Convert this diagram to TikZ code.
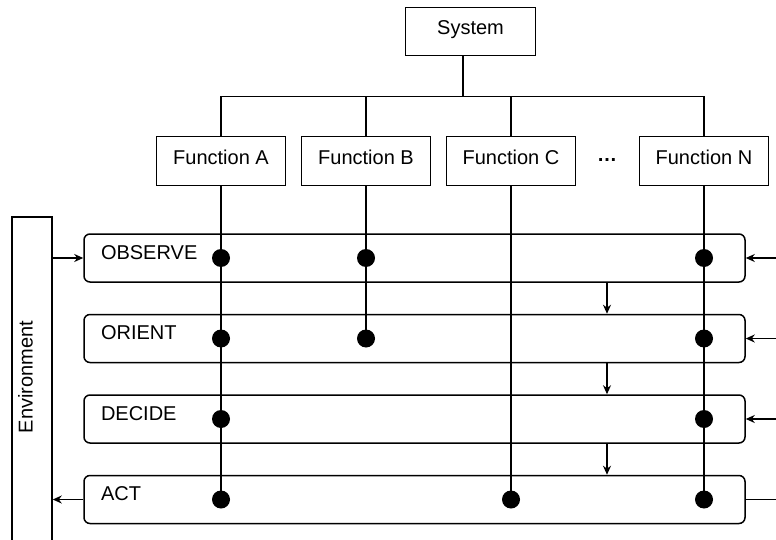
\documentclass[tikz,border=0pt]{standalone}
\usepackage{fontspec}
\setmainfont{Liberation Sans}
\usepackage{tikz}
\usetikzlibrary{shapes,arrows,arrows.meta}
\usetikzlibrary{positioning}
\tikzstyle{link} = [line width=1.5pt]
\tikzstyle{arrow} = [line width=1.5pt,-{Stealth[length=9pt,width=8pt]}]
\tikzstyle{block} = [
    rectangle, minimum width=129pt, minimum height=49pt, inner sep=0pt,
    text height=14.3pt, text depth=8pt,
    text centered, draw=black, line width=1.5pt]
\tikzstyle{phase} = [
    rectangle, rounded corners=6pt, minimum width=661pt, minimum height=48pt,
    text width=627pt, inner xsep=17pt, align=left, text depth=11pt,
    draw=black, line width=1.5pt]
\tikzstyle{dot} = [circle, fill=black, minimum size=18pt, inner sep=0pt]

\begin{document}
\begin{tikzpicture}[x=1pt,y=-1pt,font=\fontsize{20}{24}\selectfont]
\useasboundingbox (0,0) rectangle (776,540);
\clip (0,0) rectangle (776,540);

% system and its functions
\node (system) [block, minimum width=130pt, minimum height=48pt] at (470.5,31.5) {System};
\node (fa) [block] at (221,161) {Function A};
\node (fb) [block, right=14.5pt of fa] {Function B};
\node (fc) [block, right=14.5pt of fb] {Function C};
\node (fn) [block] at (704,161) {Function N};
\node (more) [font=\bfseries\fontsize{20}{24}\selectfont] at (607,160) {\ldots};

\coordinate (hub) at (463,96.5);
\draw [link] (system.south -| hub) -- (hub);
\draw [link] (fa.north) -- (fa.north |- hub) -- (fn.north |- hub) -- (fn.north);
\draw [link] (fb.north) -- (fb.north |- hub);
\draw [link] (fc.north) -- (fc.north |- hub);

% OODA loop
\node (observe) [phase] at (414.5,258) {OBSERVE};
\node (orient) [phase, below=31pt of observe] {ORIENT};
\node (decide) [phase, below=31pt of orient] {DECIDE};
\node (act) [phase, below=31pt of decide] {ACT};

\node (env) [rectangle, draw=black, line width=1.5pt, minimum width=40pt, minimum height=330pt] at (32,382) {};
\node (envtext) [rotate=90, text depth=13pt] at (32,377) {Environment};

% function lines
\draw [link] (fa.south) -- (fa |- act);
\draw [link] (fb.south) -- (fb |- orient);
\draw [link] (fc.south) -- (fc |- act);
\draw [link] (fn.south) -- (fn |- act);
\foreach \p in {observe,orient,decide,act} {
    \node (a\p) [dot] at (fa |- \p) {};
    \node (n\p) [dot] at (fn |- \p) {};
}
\node (bobserve) [dot] at (fb |- observe) {};
\node (borient) [dot] at (fb |- orient) {};
\node (cact) [dot] at (fc |- act) {};

% flow
\draw [arrow] (observe.south -| more) -- (orient.north -| more);
\draw [arrow] (orient.south -| more) -- (decide.north -| more);
\draw [arrow] (decide.south -| more) -- (act.north -| more);

\coordinate (rim) at (776,0);
\draw [arrow] (env.east |- observe) -- (observe.west);
\draw [arrow] (act.west) -- (env.east |- act);
\foreach \p in {observe,orient,decide}
    \draw [arrow] (rim |- \p) -- (\p.east);
\draw [link] (act.east) -- (rim |- act);
\end{tikzpicture}
\end{document}
